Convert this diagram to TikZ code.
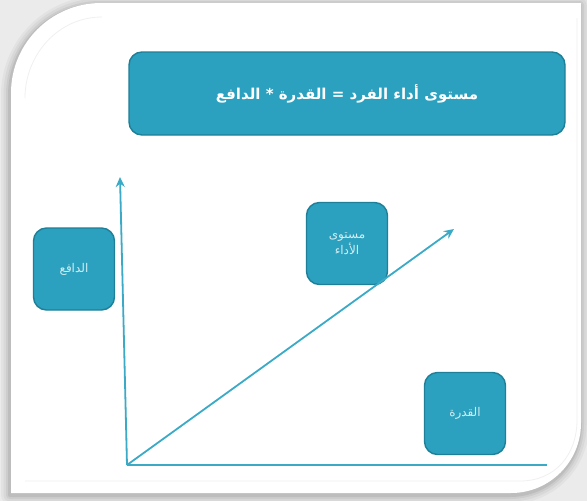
\documentclass[tikz,border=0pt]{standalone}
\usepackage{fontspec}
\newfontfamily\arabicfont[Script=Arabic]{DejaVu Sans}
\TeXXeTstate=1
\usetikzlibrary{arrows.meta}
\definecolor{boxfill}{HTML}{2BA1BF}
\definecolor{boxline}{HTML}{1E7F98}
\definecolor{axisline}{HTML}{3AAAC7}
\definecolor{bg}{HTML}{EBEBEB}
\definecolor{softtext}{HTML}{D2EDF3}
\tikzset{
  tealbox/.style={draw=boxline, fill=boxfill, line width=1.4pt, rounded corners=13pt, inner sep=0pt},
  smallbox/.style={tealbox, minimum width=81pt, minimum height=82pt, text=softtext, font=\arabicfont\fontsize{12}{14}\selectfont, align=center},
  axisarrow/.style={draw=axisline, line width=1.8pt, -{Stealth[length=10pt,width=9pt]}},
  axisplain/.style={draw=axisline, line width=1.8pt},
  faint/.style={draw=gray!12, line width=0.8pt}
}
\newcommand{\framepath}{(11,493) -- (11,93) .. controls (11,43.3) and (51.3,3) .. (101,3) -- (581,3) -- (581,423) .. controls (581,461.7) and (549.7,493) .. (511,493) -- cycle}
\begin{document}
\begin{tikzpicture}[x=1pt,y=-1pt]
\useasboundingbox (0,0) rectangle (587,501);
\fill[bg] (0,0) rectangle (587,501);
% soft shadow of the frame
\foreach \w/\o in {18/0.035,13/0.045,8/0.055,4/0.07}{
  \begin{scope}[shift={(-1,2)}]
    \draw[black, opacity=\o, line width=\w pt, line join=round] \framepath;
  \end{scope}
}
\fill[white] \framepath;
% faint inner outline pieces
\draw[faint] (25,98) .. controls (25,55) and (58,17) .. (102,17);
\draw[faint] (25,481) -- (520,481) .. controls (555,481) and (577,455) .. (577,420) -- (577,18);
% title
\node[tealbox, minimum width=436pt, minimum height=83pt, text=white,
      font=\arabicfont\bfseries\fontsize{15}{18}\selectfont] (title) at (347,93.5)
      {\beginR مستوى أداء الفرد = القدرة * الدافع\endR};
% small boxes
\node[smallbox] (motive) at (74,269) {\beginR الدافع\endR};
\node[smallbox] (perf) at (347,243.5) {\beginR مستوى\endR\\[0pt]\beginR الأداء\endR};
\node[smallbox] (ability) at (465,413.5) {\beginR القدرة\endR};
% axes
\coordinate (o) at (127,465);
\coordinate (ytip) at (120,177);
\coordinate (xend) at (547,465);
\coordinate (dtip) at (454,229);
\draw[axisarrow] (o) -- (ytip);
\draw[axisplain] (o) -- (xend);
\draw[axisarrow] (o) -- (dtip);
\end{tikzpicture}
\end{document}
